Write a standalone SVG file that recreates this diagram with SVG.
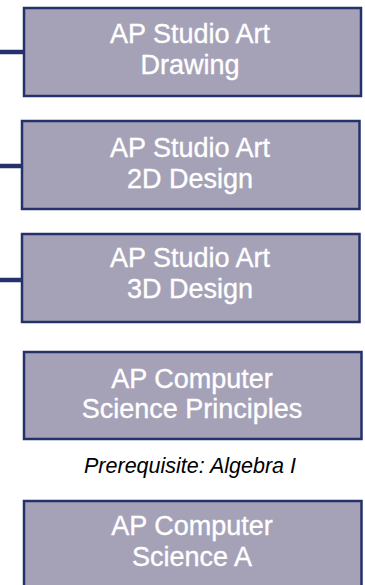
<svg xmlns="http://www.w3.org/2000/svg" width="365" height="585" viewBox="0 0 365 585">
<style>
.box{fill:#A5A2B8;stroke:#26306B;stroke-width:2.5}
.t{font-family:"Liberation Sans",Arial,Helvetica,sans-serif;font-size:27px;fill:#FFFFFF;stroke:#FFFFFF;stroke-width:0.35;text-anchor:middle}
.c{stroke:#26306B;stroke-width:4.5;fill:none}
.note{font-family:"Liberation Sans",Arial,Helvetica,sans-serif;font-size:21.5px;font-style:italic;fill:#000000;text-anchor:middle}
</style>
<rect width="365" height="585" fill="#FFFFFF"/>
<g id="connectors">
<line class="c" x1="0" y1="52" x2="24" y2="52"/>
<line class="c" x1="0" y1="166" x2="22" y2="166"/>
<line class="c" x1="0" y1="280" x2="22" y2="280"/>
</g>
<g id="node-drawing">
<rect class="box" x="24" y="8" width="337" height="88"/>
<text class="t" x="190" y="43">AP Studio Art</text>
<text class="t" x="190" y="74">Drawing</text>
</g>
<g id="node-2d">
<rect class="box" x="22" y="121" width="337.5" height="88"/>
<text class="t" x="190" y="157">AP Studio Art</text>
<text class="t" x="190" y="188">2D Design</text>
</g>
<g id="node-3d">
<rect class="box" x="22" y="234" width="337.5" height="88"/>
<text class="t" x="190" y="267">AP Studio Art</text>
<text class="t" x="190" y="298">3D Design</text>
</g>
<g id="node-csp">
<rect class="box" x="24" y="352" width="337.5" height="87"/>
<text class="t" x="192" y="388">AP Computer</text>
<text class="t" x="192" y="418">Science Principles</text>
</g>
<text class="note" x="190" y="473">Prerequisite: Algebra I</text>
<g id="node-csa">
<rect class="box" x="24" y="501" width="337.5" height="110"/>
<text class="t" x="192" y="535">AP Computer</text>
<text class="t" x="192" y="566">Science A</text>
</g>
</svg>
